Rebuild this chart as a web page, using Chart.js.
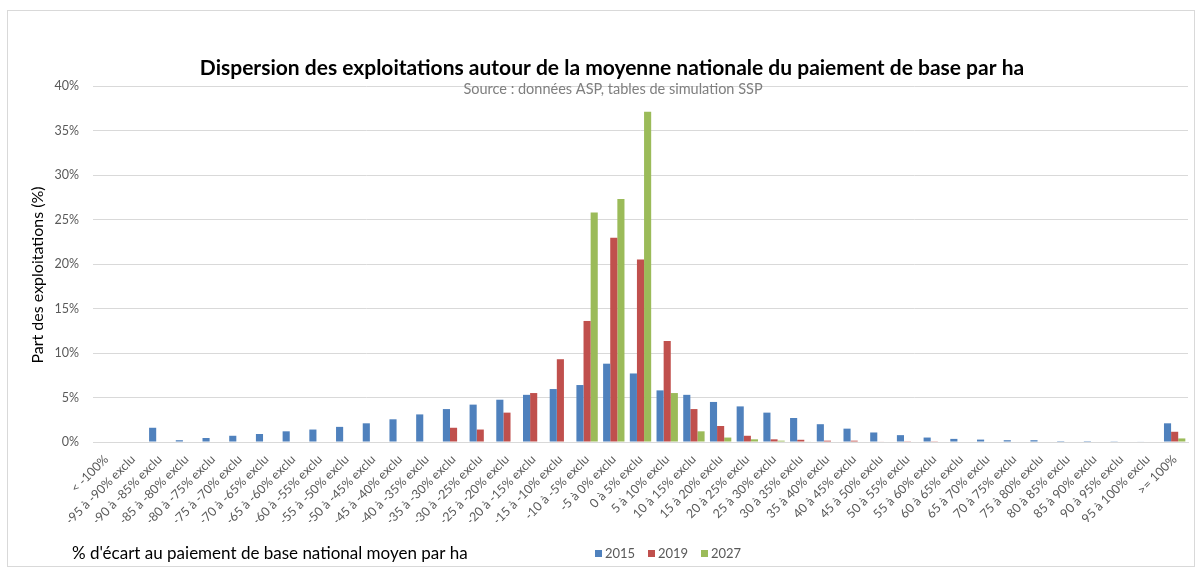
<!DOCTYPE html>
<html lang="fr">
<head>
<meta charset="utf-8">
<title>Dispersion des exploitations</title>
<script src="https://cdn.jsdelivr.net/npm/chart.js@4/dist/chart.umd.min.js"></script>
<style>
  html, body { margin: 0; padding: 0; background: #fff; }
  #chart { display: block; }
</style>
</head>
<body>
<canvas id="chart" width="1200" height="575"></canvas>
<script>
// Tranches d'écart au paiement de base national moyen
const categories = [
  "< -100%",
  "-95 à -90% exclu", "-90 à -85% exclu", "-85 à -80% exclu", "-80 à -75% exclu",
  "-75 à -70% exclu", "-70 à -65% exclu", "-65 à -60% exclu", "-60 à -55% exclu",
  "-55 à -50% exclu", "-50 à -45% exclu", "-45 à -40% exclu", "-40 à -35% exclu",
  "-35 à -30% exclu", "-30 à -25% exclu", "-25 à -20% exclu", "-20 à -15% exclu",
  "-15 à -10% exclu", "-10 à -5% exclu", "-5 à 0% exclu",
  "0 à 5% exclu", "5 à 10% exclu", "10 à 15% exclu", "15 à 20% exclu",
  "20 à 25% exclu", "25 à 30% exclu", "30 à 35% exclu", "35 à 40% exclu",
  "40 à 45% exclu", "45 à 50% exclu", "50 à 55% exclu", "55 à 60% exclu",
  "60 à 65% exclu", "65 à 70% exclu", "70 à 75% exclu", "75 à 80% exclu",
  "80 à 85% exclu", "85 à 90% exclu", "90 à 95% exclu", "95 à 100% exclu",
  ">= 100%"
];

// Part des exploitations (%) par année
const v2015 = [
  0, 0, 1.6, 0.2, 0.45, 0.7, 0.9, 1.2, 1.4, 1.7, 2.1, 2.55, 3.1,
  3.7, 4.2, 4.75, 5.3, 5.95, 6.4, 8.8,
  7.7, 5.8, 5.3, 4.5, 4.0, 3.3, 2.7, 2.0, 1.5, 1.07, 0.77, 0.5,
  0.35, 0.27, 0.2, 0.2, 0.1, 0.1, 0.08, 0.05,
  2.1
];
const v2019 = [
  0, 0, 0, 0, 0, 0, 0, 0, 0, 0, 0, 0, 0,
  1.6, 1.4, 3.3, 5.5, 9.3, 13.6, 22.95,
  20.5, 11.35, 3.7, 1.8, 0.7, 0.3, 0.25, 0.15, 0.15, 0.05, 0.03, 0.03,
  0, 0, 0, 0, 0, 0, 0, 0,
  1.15
];
const v2027 = [
  0, 0, 0, 0, 0, 0, 0, 0, 0, 0, 0, 0, 0,
  0, 0, 0, 0, 0, 25.8, 27.3,
  37.1, 5.5, 1.2, 0.5, 0.3, 0.15, 0.05, 0, 0, 0, 0, 0,
  0, 0, 0, 0, 0, 0, 0, 0,
  0.4
];

const yMax = 40;
const yStep = 5;

const FONT = "Lato, 'Liberation Sans', sans-serif";

// textes et légende dessinés comme dans le graphique Excel d'origine
const decorPlugin = {
  id: "decor",
  beforeDraw(chart) {
    const ctx = chart.ctx;
    ctx.save();
    ctx.strokeStyle = "#d9d9d9";
    ctx.lineWidth = 1;
    ctx.strokeRect(7.5, 10.5, 1187, 556);
    ctx.restore();
  },
  afterDraw(chart) {
    const ctx = chart.ctx;
    ctx.save();
    ctx.textBaseline = "middle";

    ctx.fillStyle = "#000";
    ctx.textAlign = "center";
    ctx.font = "bold 21px " + FONT;
    ctx.fillText("Dispersion des exploitations autour de la moyenne nationale du paiement de base par ha", 612, 68);

    ctx.fillStyle = "#7f7f7f";
    ctx.font = "14.5px " + FONT;
    ctx.fillText("Source : données ASP, tables de simulation SSP", 613, 89);

    // titre de l'axe vertical
    ctx.save();
    ctx.translate(38, 275);
    ctx.rotate(-Math.PI / 2);
    ctx.fillStyle = "#000";
    ctx.font = "16px " + FONT;
    ctx.fillText("Part des exploitations (%)", 0, 0);
    ctx.restore();

    ctx.fillStyle = "#000";
    ctx.textAlign = "left";
    ctx.font = "17px " + FONT;
    ctx.fillText("% d'écart au paiement de base national moyen par ha", 72, 554);

    // légende
    ctx.font = "13px " + FONT;
    let x = 595;
    chart.data.datasets.forEach(ds => {
      ctx.fillStyle = ds.backgroundColor;
      ctx.fillRect(x, 550, 7, 7);
      ctx.fillStyle = "#595959";
      ctx.fillText(ds.label, x + 10, 554);
      x += 53;
    });
    ctx.restore();
  }
};

new Chart(document.getElementById("chart"), {
  type: "bar",
  data: {
    labels: categories,
    datasets: [
      { label: "2015", data: v2015, backgroundColor: "#4F81BD" },
      { label: "2019", data: v2019, backgroundColor: "#C0504D" },
      { label: "2027", data: v2027, backgroundColor: "#9BBB59" }
    ]
  },
  options: {
    responsive: false,
    animation: false,
    layout: { padding: { top: 86, left: 25, right: 12, bottom: 53 } },
    datasets: { bar: { categoryPercentage: 0.8, barPercentage: 1.0 } },
    plugins: {
      legend: { display: false },
      title: { display: false },
      tooltip: { enabled: false }
    },
    scales: {
      x: {
        grid: { display: false },
        border: { color: "#d9d9d9" },
        ticks: {
          color: "#595959",
          font: { family: FONT, size: 12.5 },
          minRotation: 45,
          maxRotation: 45,
          autoSkip: false,
          padding: 2
        },
        afterFit: s => { s.height = 80; }
      },
      y: {
        min: 0,
        max: yMax,
        ticks: {
          stepSize: yStep,
          color: "#595959",
          font: { family: FONT, size: 12.5 },
          padding: 14,
          callback: v => v + "%"
        },
        grid: { color: "#d9d9d9", drawTicks: false },
        border: { display: false },
        afterFit: s => { s.width = 68; }
      }
    }
  },
  plugins: [decorPlugin]
});
</script>
</body>
</html>
